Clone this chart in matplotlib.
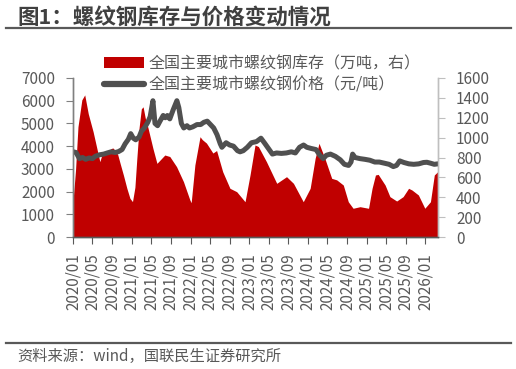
import matplotlib
matplotlib.use("Agg")
import matplotlib.pyplot as plt
import matplotlib.dates as mdates
from matplotlib.patches import Patch
from matplotlib.lines import Line2D
import pandas as pd

plt.rcParams['font.family'] = ['Noto Sans CJK SC', 'DejaVu Sans']

# ---- data ----
inv_dates = ["2020-01-03", "2020-01-17", "2020-02-01", "2020-02-25", "2020-03-14", "2020-04-05",
             "2020-05-05", "2020-06-16", "2020-07-01", "2020-07-20", "2020-08-10", "2020-08-25",
             "2020-09-05", "2020-09-20", "2020-10-05", "2020-10-20", "2020-11-10", "2020-12-01",
             "2020-12-20", "2021-01-05", "2021-01-20", "2021-02-01", "2021-02-15", "2021-03-01",
             "2021-03-12", "2021-03-25", "2021-04-12", "2021-05-12", "2021-06-06", "2021-07-25",
             "2021-08-25", "2021-10-06", "2021-11-18", "2021-12-28", "2022-01-05", "2022-01-28",
             "2022-03-01", "2022-03-15", "2022-04-10", "2022-05-20", "2022-06-12", "2022-07-20",
             "2022-09-03", "2022-10-15", "2022-12-06", "2023-01-06", "2023-02-06", "2023-02-27",
             "2023-04-18", "2023-06-21", "2023-08-21", "2023-10-03", "2023-12-03", "2024-01-15",
             "2024-02-15", "2024-03-10", "2024-04-15", "2024-05-28", "2024-06-28", "2024-08-08",
             "2024-09-08", "2024-10-08", "2024-11-20", "2025-01-12", "2025-02-03", "2025-02-24",
             "2025-03-13", "2025-04-25", "2025-05-25", "2025-07-06", "2025-08-15", "2025-09-18",
             "2025-10-09", "2025-11-18", "2025-12-28", "2026-02-01", "2026-02-25", "2026-03-18"]
inventory = [400, 680, 1110, 1380, 1430, 1240,
             1060, 758, 840, 860, 870, 890,
             896, 870, 830, 741, 620, 490,
             390, 356, 500, 790, 1100, 1290,
             1310, 1200, 1094, 892, 741, 825,
             810, 708, 557, 372, 345, 725,
             1009, 980, 945, 845, 870, 657,
             490, 456, 355, 624, 926, 910,
             758, 540, 607, 540, 355, 490,
             792, 943, 792, 590, 575, 523,
             355, 289, 305, 289, 490, 624,
             630, 523, 406, 362, 406, 490,
             473, 423, 289, 355, 624, 657]

price_dates = ["2020-01-03", "2020-01-20", "2020-02-10", "2020-03-01", "2020-03-20", "2020-04-10",
               "2020-05-01", "2020-05-20", "2020-06-15", "2020-07-10", "2020-08-01", "2020-08-25",
               "2020-09-20", "2020-10-10", "2020-11-01", "2020-11-20", "2020-12-10", "2020-12-25",
               "2021-01-10", "2021-01-25", "2021-02-15", "2021-03-01", "2021-03-20", "2021-04-10",
               "2021-04-25", "2021-05-12", "2021-05-25", "2021-06-10", "2021-06-25", "2021-07-15",
               "2021-07-28", "2021-08-10", "2021-08-25", "2021-09-15", "2021-10-08", "2021-10-20",
               "2021-11-05", "2021-11-20", "2021-12-10", "2021-12-25", "2022-01-15", "2022-02-10",
               "2022-03-05", "2022-03-25", "2022-04-15", "2022-05-05", "2022-05-25", "2022-06-15",
               "2022-07-05", "2022-07-15", "2022-08-10", "2022-09-01", "2022-09-25", "2022-10-20",
               "2022-11-05", "2022-11-25", "2022-12-20", "2023-01-15", "2023-02-15", "2023-03-15",
               "2023-04-10", "2023-05-05", "2023-05-25", "2023-06-20", "2023-07-20", "2023-08-20",
               "2023-09-20", "2023-10-15", "2023-11-10", "2023-12-05", "2023-12-25", "2024-01-20",
               "2024-02-20", "2024-03-15", "2024-04-05", "2024-04-25", "2024-05-20", "2024-06-20",
               "2024-07-20", "2024-08-15", "2024-09-10", "2024-09-25", "2024-10-05", "2024-10-20",
               "2024-11-20", "2024-12-20", "2025-01-20", "2025-02-20", "2025-03-20", "2025-04-20",
               "2025-05-20", "2025-06-15", "2025-07-05", "2025-07-25", "2025-08-20", "2025-09-20",
               "2025-10-20", "2025-11-20", "2025-12-20", "2026-01-10", "2026-02-01", "2026-02-25",
               "2026-03-18"]
price = [3750, 3720, 3450, 3500, 3420, 3480,
         3450, 3560, 3620, 3650, 3700, 3750,
         3720, 3760, 3850, 4100, 4300, 4550,
         4350, 4280, 4400, 4650, 4800, 5050,
         5300, 6000, 5000, 4900, 5100, 5350,
         5250, 5350, 5200, 5600, 6000, 5700,
         5000, 4800, 4900, 4800, 4850, 4950,
         4950, 5050, 5100, 4950, 4800, 4500,
         4100, 3950, 4150, 4050, 4000, 3800,
         3750, 3800, 3950, 4150, 4200, 4350,
         4100, 3850, 3650, 3700, 3680, 3700,
         3750, 3700, 3950, 4050, 3950, 3900,
         3850, 3600, 3450, 3600, 3650, 3550,
         3400, 3200, 3150, 3300, 3650, 3500,
         3450, 3420, 3380, 3300, 3300, 3250,
         3200, 3100, 3150, 3350, 3280, 3220,
         3200, 3220, 3280, 3290, 3250, 3200,
         3220]

left_ticks = [0, 1000, 2000, 3000, 4000, 5000, 6000, 7000]
right_ticks = [0, 200, 400, 600, 800, 1000, 1200, 1400, 1600]

inv_label = "全国主要城市螺纹钢库存（万吨，右）"
price_label = "全国主要城市螺纹钢价格（元/吨）"
title = "图1：螺纹钢库存与价格变动情况"
source = "资料来源：wind，国联民生证券研究所"

# ---- styles ----
RED = "#C00000"
LINE = "#505050"
TXT = "#595959"

W, H = 516, 369
fig = plt.figure(figsize=(W / 100, H / 100), dpi=100)
fig.patch.set_facecolor("white")

ax = fig.add_axes([73 / W, 1 - 237 / H, (438 - 73) / W, (237 - 78) / H])
ax2 = ax.twinx()

inv_x = pd.to_datetime(inv_dates)
price_x = pd.to_datetime(price_dates)

ax.fill_between(inv_x, inventory, 0, color=RED, linewidth=0)
ax.set_ylim(0, 1600)
ax.set_yticks(right_ticks)
ax.yaxis.tick_right()

ax2.plot(price_x, price, color=LINE, linewidth=3.6, solid_capstyle="round",
         solid_joinstyle="round")
ax2.set_ylim(0, 7000)
ax2.set_yticks(left_ticks)
ax2.yaxis.set_ticks_position("left")
ax2.yaxis.set_label_position("left")

ax.set_xlim(pd.Timestamp("2020-01-01"), pd.Timestamp("2026-03-20"))
xt = pd.date_range("2020-01-01", "2026-01-01", freq="4MS")
ax.set_xticks(xt)
ax.xaxis.set_major_formatter(mdates.DateFormatter("%Y/%m"))

for a in (ax, ax2):
    a.spines["top"].set_visible(False)
    a.spines["left"].set_color("#808080")
    a.spines["right"].set_color("#bfbfbf")
    a.spines["bottom"].set_color("#595959")
    for s in a.spines.values():
        s.set_linewidth(1.0)

ax.tick_params(axis="x", labelrotation=90, labelsize=11, labelcolor=TXT,
               length=5, color="#595959", pad=7)
ax.tick_params(axis="y", labelsize=11, labelcolor=TXT, length=5, color="#bfbfbf", pad=8)
ax2.tick_params(axis="y", labelsize=11, labelcolor=TXT, length=5, color="#808080", pad=8)

# legend
handles = [Patch(facecolor=RED, edgecolor="none"),
           Line2D([0], [0], color=LINE, linewidth=4.5, solid_capstyle="round")]
fig.legend(handles, [inv_label, price_label], loc="center left",
           bbox_to_anchor=(104 / W, 1 - 74.5 / H), frameon=False,
           fontsize=11.5, labelcolor=TXT, handlelength=2.5, handleheight=0.65,
           handletextpad=0.3, labelspacing=0.3, borderpad=0, borderaxespad=0)

# title & decorations
fig.text(17 / W, 1 - 17 / H, title, fontsize=15.5, fontweight="bold", color="#404040",
         ha="left", va="center")
fig.add_artist(Line2D([6 / W, 511 / W], [1 - 28.3 / H] * 2, color="#595959", linewidth=1.6))
fig.add_artist(Line2D([6 / W, 511 / W], [1 - 342.7 / H] * 2, color="#595959", linewidth=1.6))
fig.text(17 / W, 1 - 356 / H, source, fontsize=11, color=TXT, ha="left", va="center")

fig.savefig("out.png", dpi=100, facecolor="white")
